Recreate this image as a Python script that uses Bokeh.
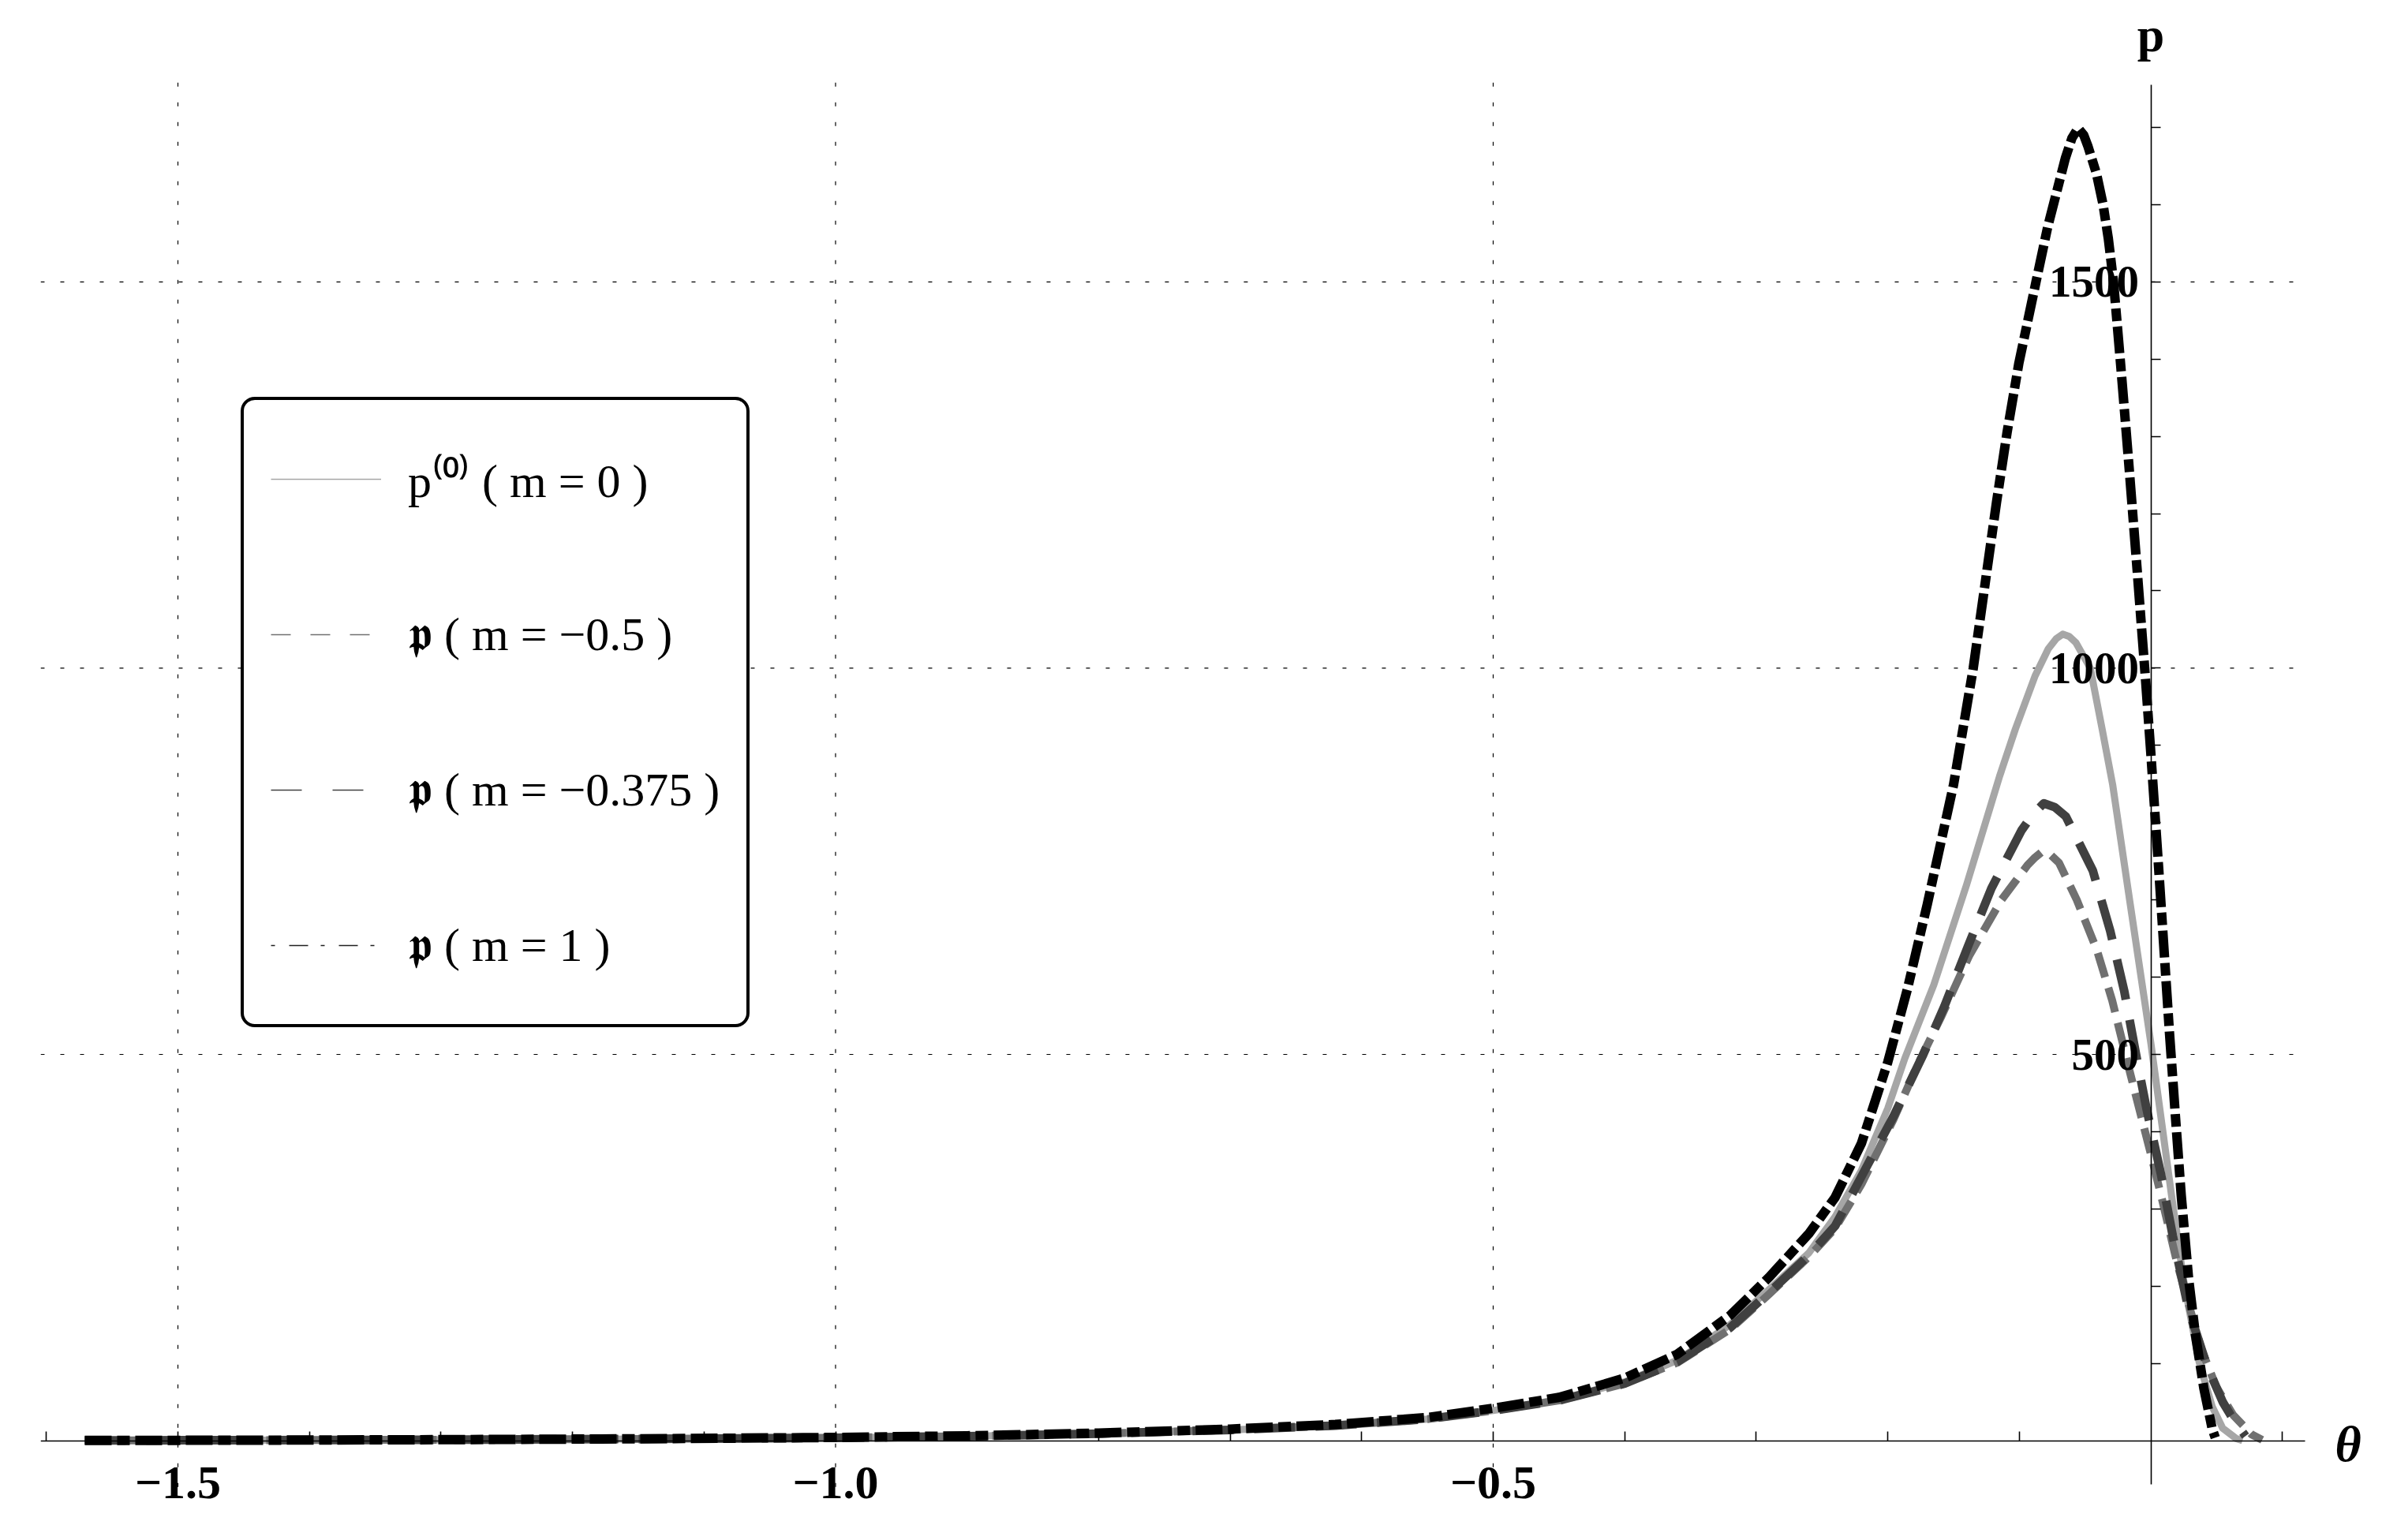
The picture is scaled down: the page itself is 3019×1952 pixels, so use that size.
from bokeh.plotting import figure
from bokeh.models import Range1d, FixedTicker, Legend, LegendItem, Label
from bokeh.embed import file_html
from bokeh.resources import INLINE

# ---------------- data ----------------
# p^(0), m = 0  (light grey solid)
theta_m0 = [-1.5708, -1.45, -1.3, -1.15, -1.0, -0.9, -0.8, -0.7, -0.62, -0.55, -0.5, -0.45,
            -0.4, -0.36, -0.32, -0.29, -0.26, -0.24, -0.22, -0.2, -0.187, -0.165, -0.14,
            -0.115, -0.103, -0.088, -0.078, -0.072, -0.067, -0.062, -0.057, -0.046, -0.037,
            -0.029, -0.0156, 0.0, 0.0068, 0.0157, 0.0247, 0.0367, 0.0467, 0.0547, 0.0647, 0.0697]
p_m0 = [0.3, 0.6, 1.2, 2.2, 3.8, 5.8, 9.0, 14, 19.5, 28, 39, 53,
        76, 104, 150, 196, 243, 290, 350, 430, 495, 590, 720,
        860, 921, 990, 1025, 1038, 1044, 1041, 1033, 1000, 921,
        849, 694, 515, 430, 318, 210, 102, 44, 16, 3, 0]

# p, m = -0.5  (mid grey, short dashes)
theta_m05 = [-1.5708, -1.45, -1.3, -1.15, -1.0, -0.9, -0.8, -0.7, -0.62, -0.55, -0.5, -0.45,
             -0.4, -0.36, -0.32, -0.29, -0.26, -0.24, -0.22, -0.1956, -0.178, -0.159, -0.138,
             -0.1136, -0.0937, -0.088, -0.083, -0.076, -0.0698, -0.0563, -0.041, -0.0294,
             -0.0156, -0.0003, 0.0087, 0.0207, 0.0387, 0.0497, 0.0627, 0.0767, 0.0847]
p_m05 = [0.3, 0.6, 1.2, 2.2, 3.8, 5.8, 9.0, 14, 19.5, 28, 39, 52,
         74, 101, 144, 190, 238, 275, 332, 416, 484, 550, 628,
         700, 745, 755, 762, 758, 748, 700, 635, 570,
         475, 373, 311, 225, 117, 70, 33, 8, 1]

# p, m = -0.375  (dark grey, long dashes)
theta_m0375 = [-1.5708, -1.45, -1.3, -1.15, -1.0, -0.9, -0.8, -0.7, -0.62, -0.55, -0.5, -0.45,
               -0.4, -0.36, -0.32, -0.29, -0.26, -0.24, -0.22, -0.1956, -0.173, -0.157, -0.139,
               -0.1212, -0.0983, -0.09, -0.0814, -0.073, -0.0646, -0.0441, -0.0309, -0.0202,
               -0.0095, -0.0033, 0.0077, 0.0167, 0.0287, 0.0427, 0.0547, 0.0607, 0.0667, 0.072]
p_m0375 = [0.3, 0.6, 1.2, 2.2, 3.8, 5.8, 9.0, 14, 19.5, 28, 39, 52,
           74, 102, 146, 192, 240, 278, 342, 420, 500, 562, 640,
           715, 790, 810, 825, 820, 808, 738, 660, 582,
           484, 430, 345, 265, 170, 97, 50, 33, 18, 6]

# p, m = 1  (black, dash-dot)
theta_m1 = [-1.5708, -1.45, -1.3, -1.15, -1.0, -0.9, -0.8, -0.7, -0.62, -0.55, -0.5, -0.45,
            -0.4, -0.36, -0.32, -0.29, -0.26, -0.24, -0.22, -0.2, -0.185, -0.17, -0.15, -0.135,
            -0.1313, -0.1243, -0.1173, -0.1093, -0.1003, -0.0873, -0.0783, -0.065, -0.06,
            -0.0553, -0.051, -0.0477, -0.0413, -0.0363, -0.0323, -0.0283, -0.0253, -0.0223,
            -0.0193, -0.0163, -0.0133, -0.0103, -0.0073, -0.004, 0.0, 0.006, 0.0141, 0.0187,
            0.0231, 0.0287, 0.0337, 0.0403, 0.0467, 0.049]
p_m1 = [0.3, 0.6, 1.3, 2.4, 4.2, 6.3, 9.8, 15, 21, 30, 42, 56,
        81, 112, 162, 212, 268, 315, 385, 490, 585, 694, 849, 1000,
        1045, 1130, 1215, 1305, 1395, 1500, 1572, 1660, 1686,
        1699, 1690, 1675, 1640, 1600, 1556, 1499, 1440, 1380,
        1318, 1255, 1190, 1125, 1058, 985, 890, 740, 530, 420,
        318, 210, 140, 68, 15, 4]

x_major_ticks = [-1.5, -1.0, -0.5]
x_major_labels = ["\u22121.5", "\u22121.0", "\u22120.5"]
x_minor_ticks = [-1.6, -1.4, -1.3, -1.2, -1.1, -0.9, -0.8, -0.7, -0.6, -0.4, -0.3, -0.2, -0.1, 0.1]
y_major_ticks = [500, 1000, 1500]
y_minor_ticks = [100, 200, 300, 400, 600, 700, 800, 900, 1100, 1200, 1300, 1400, 1600, 1700]

legend_labels = ["p\u207d\u2070\u207e ( m = 0 )",
                 "\U0001D595 ( m = \u22120.5 )",
                 "\U0001D595 ( m = \u22120.375 )",
                 "\U0001D595 ( m = 1 )"]

# plot range of the original (axis extents)
AXIS_X = (-1.6044, 0.1173)
AXIS_Y = (-57, 1755)
GRID_X = (-1.6044, 0.109)
GRID_Y = (-60, 1766)

SERIF = "Liberation Serif"

# ---------------- layout (pixel geometry) ----------------
W, H = 3015, 1948
LEFT = 51
ORIGIN_X, PX_X = 2725.5, 1667.0     # screen x of theta=0, px per unit
ORIGIN_Y, PX_Y = 1825.6, 0.9792     # screen y of p=0, px per unit
x_range = Range1d((LEFT - ORIGIN_X) / PX_X, (W - ORIGIN_X) / PX_X)
y_range = Range1d((ORIGIN_Y - H) / PX_Y, ORIGIN_Y / PX_Y)

p = figure(width=W, height=H, output_backend="svg", toolbar_location=None,
           x_range=x_range, y_range=y_range,
           min_border_left=LEFT, min_border_right=0, min_border_top=0, min_border_bottom=0,
           background_fill_color="white", border_fill_color="white")
p.outline_line_color = None
p.grid.visible = False

# dotted grid lines, limited to the plot range like the original
p.segment(x0=x_major_ticks, x1=x_major_ticks, y0=[GRID_Y[0]] * 3, y1=[GRID_Y[1]] * 3,
          line_color="black", line_width=1.2, line_dash="5 20")
p.segment(x0=[GRID_X[0]] * 3, x1=[GRID_X[1]] * 3, y0=y_major_ticks, y1=y_major_ticks,
          line_color="black", line_width=1.2, line_dash="5 20")

# axes crossing at the origin
for ax in (p.xaxis[0], p.yaxis[0]):
    ax.fixed_location = 0
    ax.axis_line_color = "black"
    ax.axis_line_width = 1.6
    ax.major_tick_line_color = "black"
    ax.major_tick_line_width = 1.6
    ax.minor_tick_line_color = "black"
    ax.minor_tick_line_width = 1.6
    ax.major_tick_in = 12
    ax.major_tick_out = 0
    ax.minor_tick_in = 12
    ax.minor_tick_out = 0
    ax.major_label_text_font = SERIF
    ax.major_label_text_font_style = "bold"
    ax.major_label_text_color = "black"

p.xaxis.bounds = AXIS_X
p.yaxis.bounds = AXIS_Y
p.xaxis.ticker = FixedTicker(ticks=x_major_ticks, minor_ticks=x_minor_ticks)
p.xaxis.major_label_overrides = dict(zip(x_major_ticks, x_major_labels))
p.xaxis.major_label_standoff = 34
p.xaxis.major_label_text_font_size = "60px"
p.yaxis.ticker = FixedTicker(ticks=y_major_ticks, minor_ticks=y_minor_ticks)
p.yaxis.major_label_standoff = 15
p.yaxis.major_label_text_font_size = "57px"

# curves
p.line(theta_m0, p_m0, line_color="#a6a6a6", line_width=9, line_join="round")
p.line(theta_m05, p_m05, line_color="#707070", line_width=10, line_dash="32 14", line_join="round")
p.line(theta_m0375, p_m0375, line_color="#404040", line_width=11, line_dash="52 26", line_join="round")
p.line(theta_m1, p_m1, line_color="black", line_width=12, line_dash="34 7 16 7", line_join="round")

# legend (thin line samples, like the original)
nan = float("nan")
leg_styles = [("#a6a6a6", "solid"), ("#707070", "25 25"), ("#404040", "39 39"), ("#202020", "5 18 24 16")]
leg_r = [p.line([nan], [nan], line_color=c, line_width=1.5, line_dash=d) for c, d in leg_styles]
legend = Legend(items=[LegendItem(label=l, renderers=[r]) for l, r in zip(legend_labels, leg_r)],
                location=(305 - LEFT, H - 1302), orientation="vertical", padding=34, spacing=65,
                margin=0, glyph_width=140, glyph_height=132, label_height=132, label_width=370,
                label_standoff=34, label_text_font=SERIF, label_text_font_size="60px",
                label_text_color="black",
                border_line_color="black", border_line_width=4, border_line_alpha=1.0,
                background_fill_color="white", background_fill_alpha=1.0)
try:
    legend.border_radius = 18
except Exception:
    pass
p.add_layout(legend)

# axis names
p.add_layout(Label(x=0, y=1820, text="p", text_font=SERIF, text_font_style="bold",
                   text_font_size="62px", text_color="black",
                   text_align="center", text_baseline="alphabetic"))
p.add_layout(Label(x=0.15, y=-5, text="\u03b8", text_font=SERIF, text_font_style="bold italic",
                   text_font_size="64px", text_color="black",
                   text_align="center", text_baseline="middle"))

with open("out.html", "w") as f:
    f.write(file_html(p, INLINE))
